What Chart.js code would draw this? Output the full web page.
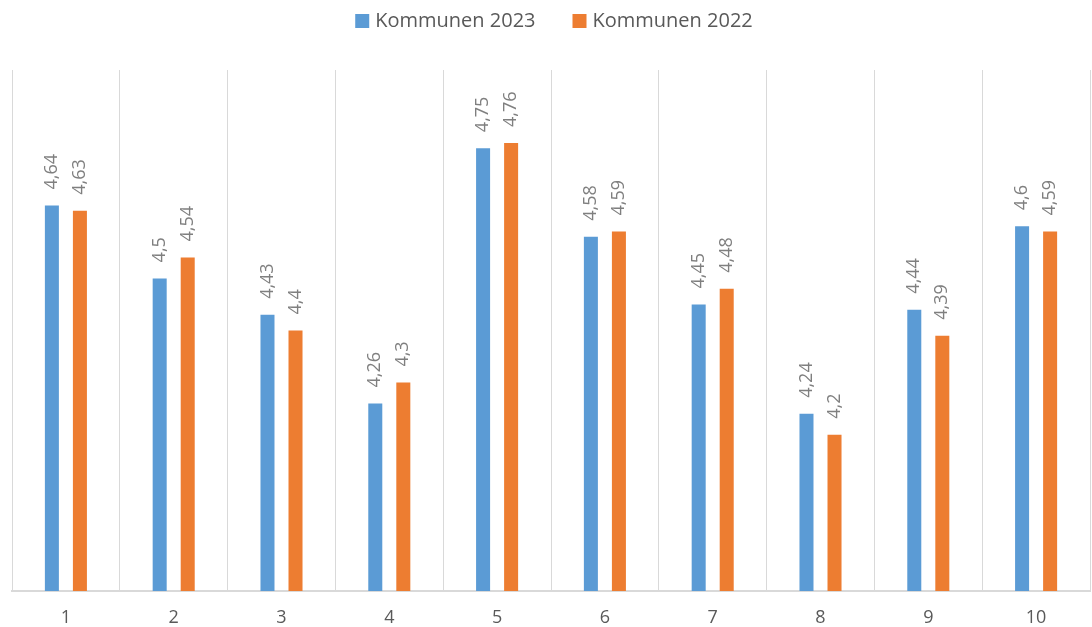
<!DOCTYPE html>
<html lang="de">
<head>
    <meta charset="UTF-8">
    <title>Kommunen 2023 / 2022</title>
    <style>
        html, body { margin: 0; padding: 0; background: #fff; }
        #wrap { width: 1092px; height: 627px; }
    </style>
</head>
<body>
    <div id="wrap">
        <canvas id="myChart" width="1092" height="627"></canvas>
    </div>
    <script src="https://cdn.jsdelivr.net/npm/chart.js"></script>
    <script>
        const categories = ['1', '2', '3', '4', '5', '6', '7', '8', '9', '10'];
        const kommunen2023 = [4.64, 4.5, 4.43, 4.26, 4.75, 4.58, 4.45, 4.24, 4.44, 4.6];
        const kommunen2022 = [4.63, 4.54, 4.4, 4.3, 4.76, 4.59, 4.48, 4.2, 4.39, 4.59];

        const BLUE = '#5b9bd5';
        const ORANGE = '#ed7d31';
        const FONT = '"Open Sans", "DejaVu Sans", sans-serif';

        // rotated value labels above each bar, excel style "4,64"
        const valueLabels = {
            id: 'valueLabels',
            afterDatasetsDraw(chart) {
                const ctx = chart.ctx;
                ctx.save();
                ctx.font = '18px ' + FONT;
                ctx.fillStyle = '#7f7f7f';
                ctx.textAlign = 'left';
                ctx.textBaseline = 'middle';
                chart.data.datasets.forEach((ds, i) => {
                    const meta = chart.getDatasetMeta(i);
                    meta.data.forEach((bar, j) => {
                        const txt = String(ds.data[j]).replace('.', ',');
                        ctx.save();
                        ctx.translate(bar.x, bar.y - 16);
                        ctx.rotate(-Math.PI / 2);
                        ctx.fillText(txt, 0, 0);
                        ctx.restore();
                    });
                });
                ctx.restore();
            }
        };

        // legend drawn by hand so the spacing looks like the office one
        const topLegend = {
            id: 'topLegend',
            afterDraw(chart) {
                const ctx = chart.ctx;
                const items = chart.data.datasets.map(ds => ({ text: ds.label, color: ds.backgroundColor }));
                ctx.save();
                ctx.font = '20px ' + FONT;
                const box = 14, gap = 6, spacing = 37;
                let total = 0;
                items.forEach((it, i) => {
                    it.w = ctx.measureText(it.text).width;
                    total += box + gap + it.w + (i > 0 ? spacing : 0);
                });
                let x = (chart.width - total) / 2 + 8;
                const y = 21;
                ctx.textBaseline = 'middle';
                ctx.textAlign = 'left';
                items.forEach(it => {
                    ctx.fillStyle = it.color;
                    ctx.fillRect(x, y - box / 2, box, box);
                    x += box + gap;
                    ctx.fillStyle = '#595959';
                    ctx.fillText(it.text, x, y);
                    x += it.w + spacing;
                });
                ctx.restore();
            }
        };

        const ctx = document.getElementById('myChart').getContext('2d');
        new Chart(ctx, {
            type: 'bar',
            data: {
                labels: categories,
                datasets: [
                    {
                        label: 'Kommunen 2023',
                        data: kommunen2023,
                        backgroundColor: BLUE,
                        categoryPercentage: 0.52,
                        barPercentage: 0.5
                    },
                    {
                        label: 'Kommunen 2022',
                        data: kommunen2022,
                        backgroundColor: ORANGE,
                        categoryPercentage: 0.52,
                        barPercentage: 0.5
                    }
                ]
            },
            options: {
                responsive: false,
                animation: false,
                layout: {
                    padding: { top: 70, left: 12, right: 2, bottom: 0 }
                },
                scales: {
                    x: {
                        afterFit(scale) {
                            scale.height = 36; // axis line sits at ~591
                        },
                        grid: {
                            color: '#d9d9d9',
                            lineWidth: 1,
                            drawTicks: false,
                            offset: true
                        },
                        border: { color: '#d9d9d9', width: 2 },
                        ticks: {
                            color: '#595959',
                            font: { family: FONT, size: 18 },
                            padding: 16
                        }
                    },
                    y: {
                        display: false,
                        min: 3.9,
                        max: 4.9
                    }
                },
                plugins: {
                    legend: { display: false },
                    tooltip: { enabled: false }
                }
            },
            plugins: [valueLabels, topLegend]
        });
    </script>
</body>
</html>
